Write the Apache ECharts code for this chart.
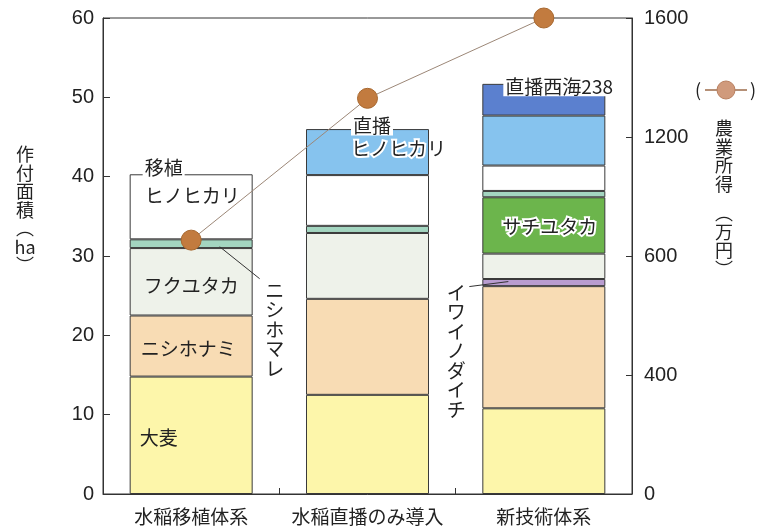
<!DOCTYPE html>
<html>
<head>
<meta charset="utf-8">
<script src="https://cdn.jsdelivr.net/npm/echarts@6/dist/echarts.min.js"></script>
<style>
  html, body { margin: 0; padding: 0; background: #fff; }
  #chart { width: 770px; height: 530px; }
</style>
</head>
<body>
<div id="chart"></div>
<script>
// ---- data -------------------------------------------------------------
const categories = ['水稲移植体系', '水稲直播のみ導入', '新技術体系'];

// 作付面積 (ha), listed from the bottom of each stack upward
const barley         = [14.8, 12.5, 10.8]; // 大麦
const nishihonami    = [7.7, 12.1, 15.4];  // ニシホナミ
const iwainodaichi   = [0, 0, 0.9];        // イワイノダイチ
const fukuyutaka     = [8.5, 8.3, 3.2];    // フクユタカ
const sachiyutaka    = [0, 0, 7.1];        // サチユタカ
const nishihomare    = [1.1, 0.9, 0.8];    // ニシホマレ
const hinoTransplant = [8.2, 6.4, 3.2];    // 移植ヒノヒカリ
const hinoDirect     = [0, 5.8, 6.3];      // 直播ヒノヒカリ
const saikai238      = [0, 0, 4.0];        // 直播西海238

// 農業所得 (万円)
const income = [680, 1330, 1600];

// axis ticks
const areaTicks = [0, 10, 20, 30, 40, 50, 60];
const incomeTicks = [0, 400, 600, 1200, 1600];

// ---- helpers ----------------------------------------------------------
const CJK = "'Noto Sans CJK JP', 'Noto Sans', sans-serif";
const NUM = "'Liberation Sans', Arial, sans-serif";
const INK = '#222';
const BAR_W = 123;
const AREA_MAX = areaTicks[areaTicks.length - 1];
const STEP = AREA_MAX / (incomeTicks.length - 1);

// The income axis has evenly spaced ticks with uneven values (broken scale),
// so each income is placed piecewise-linearly between its two ticks.
function incomeToAxis(v) {
  for (let i = 0; i < incomeTicks.length - 1; i++) {
    const a = incomeTicks[i], b = incomeTicks[i + 1];
    if (v <= b) return (i + (v - a) / (b - a)) * STEP;
  }
  return AREA_MAX;
}

const stacks = [
  { key: 'barley',       name: '大麦',           data: barley,         color: '#fdf6aa' },
  { key: 'nishihonami',  name: 'ニシホナミ',     data: nishihonami,    color: '#f8dcb4' },
  { key: 'iwainodaichi', name: 'イワイノダイチ', data: iwainodaichi,   color: '#b99dd0' },
  { key: 'fukuyutaka',   name: 'フクユタカ',     data: fukuyutaka,     color: '#eef2ea' },
  { key: 'sachiyutaka',  name: 'サチユタカ',     data: sachiyutaka,    color: '#6cb54c' },
  { key: 'nishihomare',  name: 'ニシホマレ',     data: nishihomare,    color: '#a3d5c0' },
  { key: 'hinoT',        name: '移植ヒノヒカリ', data: hinoTransplant, color: '#ffffff' },
  { key: 'hinoD',        name: '直播ヒノヒカリ', data: hinoDirect,     color: '#86c3ee' },
  { key: 'saikai',       name: '直播西海238',    data: saikai238,      color: '#5b80cf' }
];

const chart = echarts.init(document.getElementById('chart'), null, { renderer: 'canvas' });

const barSeries = stacks.map(s => ({
  type: 'bar',
  name: s.name,
  stack: 'area',
  barWidth: BAR_W,
  data: s.data.map(v => (v > 0 ? v : '-')),
  itemStyle: { color: s.color, borderColor: '#3a3a3a', borderWidth: 1 },
  emphasis: { disabled: true },
  z: 2
}));

chart.setOption({
  animation: false,
  backgroundColor: '#fff',
  grid: { left: 103, right: 138, top: 18, bottom: 36, show: true, borderColor: '#333', borderWidth: 1 },
  xAxis: {
    type: 'category',
    data: categories,
    axisLine: { lineStyle: { color: '#333', width: 1 } },
    axisTick: { show: true, inside: true, length: 6, lineStyle: { color: '#333' } },
    axisLabel: { color: INK, fontSize: 19, fontFamily: CJK, margin: 13, interval: 0 }
  },
  yAxis: [
    {
      type: 'value', min: 0, max: AREA_MAX, interval: 10,
      axisLine: { show: true, lineStyle: { color: '#333' } },
      axisTick: { show: true, inside: true, length: 7, lineStyle: { color: '#333' } },
      splitLine: { show: false },
      axisLabel: { color: INK, fontSize: 20, fontFamily: NUM, margin: 9 }
    },
    {
      type: 'value', min: 0, max: AREA_MAX, interval: STEP, position: 'right',
      axisLine: { show: true, lineStyle: { color: '#333' } },
      axisTick: { show: true, inside: true, length: 6, lineStyle: { color: '#333' } },
      splitLine: { show: false },
      axisLabel: {
        color: INK, fontSize: 20, fontFamily: NUM, margin: 12,
        formatter: v => String(incomeTicks[Math.round(v / STEP)])
      }
    }
  ],
  series: barSeries.concat([{
    type: 'line',
    name: '農業所得',
    yAxisIndex: 1,
    data: income.map(incomeToAxis),
    symbol: 'circle',
    symbolSize: 20,
    itemStyle: { color: '#c27b3f', borderColor: '#a8682f', borderWidth: 1 },
    lineStyle: { color: '#9c8777', width: 1 },
    emphasis: { disabled: true },
    z: 5
  }])
});

// ---- annotations placed from the bar geometry --------------------------
const px = (ci, v) => chart.convertToPixel({ gridIndex: 0 }, [ci, v]);

// cumulative bounds of each segment
const bounds = {};
categories.forEach((_, ci) => {
  let acc = 0;
  stacks.forEach(s => {
    const v = s.data[ci];
    bounds[s.key + ci] = { lo: acc, hi: acc + v };
    acc += v;
  });
});
const segY = (ci, key, where) => {
  const b = bounds[key + ci];
  const v = where === 'top' ? b.hi : where === 'bottom' ? b.lo : (b.lo + b.hi) / 2;
  return px(ci, v)[1];
};
const barLeft = ci => px(ci, 0)[0] - BAR_W / 2;
const barRight = ci => px(ci, 0)[0] + BAR_W / 2;

const baseFont = { fontFamily: CJK, fontSize: 19, fill: INK };

// in-bar names: [category, segment, text, x offset from bar left, anchor, y offset, style]
const barNames = [
  [0, 'barley',      '大麦',        10, 'mid', 2,  'plain'],
  [0, 'nishihonami', 'ニシホナミ',  11, 'mid', 3,  'plain'],
  [0, 'fukuyutaka',  'フクユタカ',  14, 'mid', 4,  'plain'],
  [0, 'hinoT',       '移植',        13, 'top', -7, 'boxed'],
  [0, 'hinoT',       'ヒノヒカリ',  15, 'top', 21, 'plain'],
  [1, 'hinoD',       '直播',        45, 'top', -3, 'boxed'],
  [1, 'hinoD',       'ヒノヒカリ',  45, 'top', 20, 'halo'],
  [2, 'saikai',      '直播西海238', 21, 'top', 3,  'boxed'],
  [2, 'sachiyutaka', 'サチユタカ',  20, 'mid', 1,  'halo']
];

const graphics = [];
barNames.forEach(([ci, key, text, dx, at, dy, kind]) => {
  const style = Object.assign({}, baseFont, {
    text, x: barLeft(ci) + dx, y: segY(ci, key, at) + dy,
    align: 'left', verticalAlign: 'middle'
  });
  if (kind === 'boxed') { style.backgroundColor = '#fff'; style.padding = [0, 2]; }
  if (kind === 'halo') { style.stroke = '#fff'; style.lineWidth = 4; }
  graphics.push({ type: 'text', z: 20, style });
});

// vertical call-outs with leader lines
const vtext = (text, x, y) => ({
  type: 'text', z: 20,
  style: Object.assign({}, baseFont, { text, x, y, align: 'center', verticalAlign: 'top', lineHeight: 19.5 })
});
const leader = (x1, y1, x2, y2) => ({
  type: 'line', z: 19,
  shape: { x1, y1, x2, y2 },
  style: { stroke: '#333', lineWidth: 1 }
});

{
  const r = barRight(0), m = segY(0, 'nishihomare', 'mid');
  graphics.push(leader(r - 33, m + 3, r + 7, m + 35));
  graphics.push(vtext('ニ\nシ\nホ\nマ\nレ', r + 22, m + 37));
}
{
  const l = barLeft(2), m = segY(2, 'iwainodaichi', 'mid');
  graphics.push(leader(l - 13, m + 4, l + 26, m - 1));
  graphics.push(vtext('イ\nワ\nイ\nノ\nダ\nイ\nチ', l - 26, m));
}

// axis names, written vertically
graphics.push({
  type: 'text', z: 20,
  style: Object.assign({}, baseFont, { text: '作\n付\n面\n積\n︵\nha\n︶', x: 25, y: 145, align: 'center', verticalAlign: 'top', lineHeight: 18.5, fontSize: 18 })
});
graphics.push({
  type: 'text', z: 20,
  style: Object.assign({}, baseFont, { text: '農\n業\n所\n得', x: 724, y: 119, align: 'center', verticalAlign: 'top', lineHeight: 18.5, fontSize: 18 })
});
graphics.push({
  type: 'text', z: 20,
  style: Object.assign({}, baseFont, { text: '︵\n万\n円\n︶', x: 724, y: 204, align: 'center', verticalAlign: 'top', lineHeight: 18.5, fontSize: 18 })
});

// key for the income line: (—●—)
{
  const cy = 90, cx = 726;
  graphics.push({ type: 'text', z: 20, style: Object.assign({}, baseFont, { text: '(', x: 698, y: cy, align: 'center', verticalAlign: 'middle', fontSize: 18 }) });
  graphics.push({ type: 'text', z: 20, style: Object.assign({}, baseFont, { text: ')', x: 753, y: cy, align: 'center', verticalAlign: 'middle', fontSize: 18 }) });
  graphics.push({ type: 'line', z: 20, shape: { x1: 705, y1: cy, x2: 747, y2: cy }, style: { stroke: '#9c6b4a', lineWidth: 1.5 } });
  graphics.push({ type: 'circle', z: 21, shape: { cx, cy, r: 9 }, style: { fill: '#d09a7c', stroke: '#b98060', lineWidth: 1 } });
}

chart.setOption({ graphic: graphics });
</script>
</body>
</html>
